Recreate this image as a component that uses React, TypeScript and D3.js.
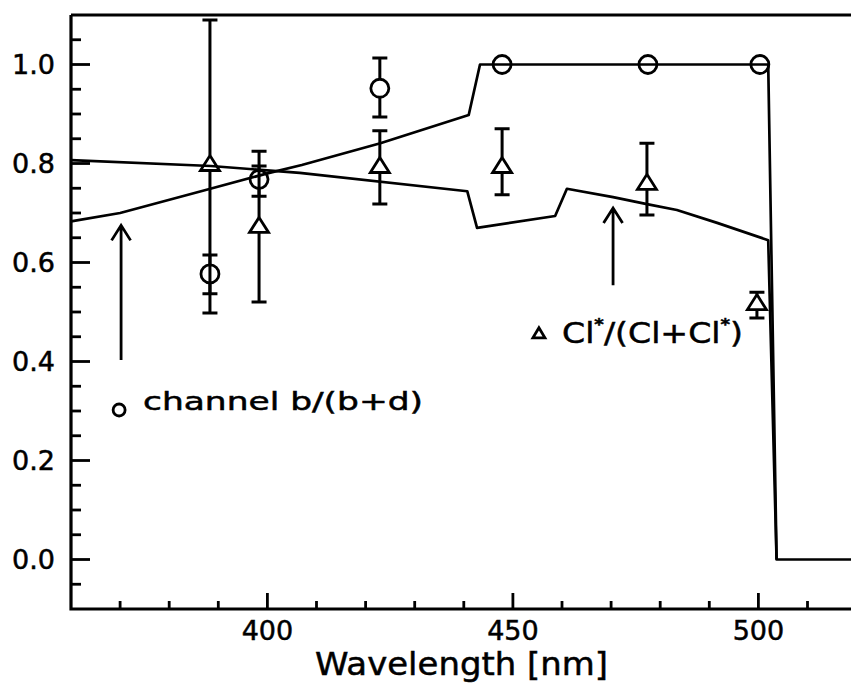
import { useEffect, useRef } from "react";
import * as d3 from "d3";

// model curves (wavelength nm, ratio)
const channelCurve: [number, number][] = [
  [360, 0.683], [370, 0.7], [388, 0.748], [400, 0.78], [407, 0.797],
  [423, 0.841], [441, 0.898], [443.3, 1.0], [502, 1.0], [503.7, 0.0], [520, 0.0],
];
const clCurve: [number, number][] = [
  [360, 0.807], [388.5, 0.795], [406.6, 0.781], [440.7, 0.744], [442.7, 0.67],
  [458.6, 0.694], [461, 0.749], [470.4, 0.732], [477.3, 0.718], [483.4, 0.706],
  [491.6, 0.68], [502, 0.645], [503.7, 0.0],
];

// measured points: [wavelength, value, low, high]
const channelPoints: [number, number, number, number][] = [
  [388.3, 0.577, 0.537, 0.615],
  [398.3, 0.768, 0.734, 0.795],
  [422.9, 0.952, 0.894, 1.013],
  [447.8, 1.0, 1.0, 1.0],
  [477.5, 1.0, 1.0, 1.0],
  [500.3, 1.0, 1.0, 1.0],
];
const clPoints: [number, number, number, number][] = [
  [388.3, 0.801, 0.498, 1.09],
  [398.3, 0.676, 0.52, 0.825],
  [422.9, 0.797, 0.718, 0.866],
  [447.8, 0.797, 0.737, 0.87],
  [477.3, 0.763, 0.696, 0.841],
  [499.7, 0.52, 0.488, 0.54],
];

const yMajor = [0, 0.2, 0.4, 0.6, 0.8, 1.0];
const yMinor = [-0.05, 0.05, 0.1, 0.15, 0.25, 0.3, 0.35, 0.45, 0.5, 0.55, 0.65, 0.7, 0.75, 0.85, 0.9, 0.95, 1.05];
const xMajor = [400, 450, 500];
const xMinor = [370, 380, 390, 410, 420, 430, 440, 460, 470, 480, 490, 510];

const FONT = "'DejaVu Sans', sans-serif";

const App = () => {
  const svgRef = useRef<SVGSVGElement>(null);

  useEffect(() => {
    const svg = d3.select(svgRef.current);
    svg.selectAll("*").remove();

    const x = d3.scaleLinear().domain([360, 520]).range([71, 71 + 160 * 4.91]);
    const y = d3.scaleLinear().domain([-0.1, 1.1]).range([609, 15]);
    const left = x(360);
    const bottom = y(-0.1);
    const top = y(1.1);

    const line = d3
      .line<[number, number]>()
      .x((d) => x(d[0]))
      .y((d) => y(d[1]));

    const g = svg.append("g");

    // text helper: thin outline to get the heavy plotter look
    const txt = (sel: d3.Selection<SVGTextElement, any, any, any>, size: number) =>
      sel
        .attr("font-family", FONT)
        .attr("font-size", size)
        .attr("fill", "#000")
        .attr("stroke", "#000")
        .attr("stroke-width", 0.5);

    // frame
    g.append("path")
      .attr("d", `M${left},${top}H851M${left},${top}V${bottom}H851`)
      .attr("fill", "none")
      .attr("stroke", "#000")
      .attr("stroke-width", 3.2);

    // y ticks
    g.selectAll(".ymaj")
      .data(yMajor)
      .enter()
      .append("line")
      .attr("x1", left)
      .attr("x2", left + 19)
      .attr("y1", (d) => y(d))
      .attr("y2", (d) => y(d))
      .attr("stroke", "#000")
      .attr("stroke-width", 2.8);
    g.selectAll(".ymin")
      .data(yMinor)
      .enter()
      .append("line")
      .attr("x1", left)
      .attr("x2", left + 10)
      .attr("y1", (d) => y(d))
      .attr("y2", (d) => y(d))
      .attr("stroke", "#000")
      .attr("stroke-width", 2.8);
    txt(
      g.selectAll(".ylab")
        .data(yMajor)
        .enter()
        .append("text")
        .attr("x", 55)
        .attr("y", (d) => y(d))
        .attr("dy", "0.36em")
        .attr("text-anchor", "end"),
      27
    ).text((d) => d3.format(".1f")(d));

    // x ticks
    g.selectAll(".xmaj")
      .data(xMajor)
      .enter()
      .append("line")
      .attr("x1", (d) => x(d))
      .attr("x2", (d) => x(d))
      .attr("y1", bottom)
      .attr("y2", bottom - 16)
      .attr("stroke", "#000")
      .attr("stroke-width", 2.8);
    g.selectAll(".xmin")
      .data(xMinor)
      .enter()
      .append("line")
      .attr("x1", (d) => x(d))
      .attr("x2", (d) => x(d))
      .attr("y1", bottom)
      .attr("y2", bottom - 8)
      .attr("stroke", "#000")
      .attr("stroke-width", 2.8);
    txt(
      g.selectAll(".xlab")
        .data(xMajor)
        .enter()
        .append("text")
        .attr("x", (d) => x(d))
        .attr("y", 640)
        .attr("text-anchor", "middle"),
      27
    ).text((d) => d);

    txt(
      g.append("text")
        .attr("x", 315)
        .attr("y", 675)
        .attr("textLength", 293)
        .attr("lengthAdjust", "spacingAndGlyphs"),
      32
    ).text("Wavelength  [nm]");

    // model curves
    [channelCurve, clCurve].forEach((c) => {
      g.append("path")
        .datum(c)
        .attr("fill", "none")
        .attr("stroke", "#000")
        .attr("stroke-width", 2.7)
        .attr("stroke-linejoin", "round")
        .attr("d", line);
    });

    const R = 9;
    const TW = 9.5;
    const TH = 15;
    const CAP = 7.5;

    const errorBars = (pts: [number, number, number, number][], gap: number) => {
      pts.forEach(([wl, v, lo, hi]) => {
        if (hi - lo < 0.001) return;
        const cx = x(wl);
        const cy = y(v);
        g.append("path")
          .attr(
            "d",
            `M${cx},${y(hi)}V${cy - gap}M${cx},${cy + gap}V${y(lo)}` +
              `M${cx - CAP},${y(hi)}H${cx + CAP}M${cx - CAP},${y(lo)}H${cx + CAP}`
          )
          .attr("fill", "none")
          .attr("stroke", "#000")
          .attr("stroke-width", 3);
      });
    };
    errorBars(channelPoints, R);
    errorBars(clPoints, TH / 2);

    g.selectAll(".circ")
      .data(channelPoints)
      .enter()
      .append("circle")
      .attr("cx", (d) => x(d[0]))
      .attr("cy", (d) => y(d[1]))
      .attr("r", R)
      .attr("fill", "none")
      .attr("stroke", "#000")
      .attr("stroke-width", 2.8);

    const tri = (cx: number, cy: number, w: number, h: number) =>
      `M${cx},${cy - h / 2}L${cx + w},${cy + h / 2}L${cx - w},${cy + h / 2}Z`;

    g.selectAll(".tri")
      .data(clPoints)
      .enter()
      .append("path")
      .attr("d", (d) => tri(x(d[0]), y(d[1]), TW, TH))
      .attr("fill", "none")
      .attr("stroke", "#000")
      .attr("stroke-width", 2.8)
      .attr("stroke-linejoin", "miter");

    // annotations
    const arrow = (wl: number, from: number, to: number) => {
      const ax = x(wl);
      const tipY = y(to);
      g.append("path")
        .attr("d", `M${ax},${y(from)}V${tipY}M${ax - 9.5},${tipY + 15}L${ax},${tipY}L${ax + 9.5},${tipY + 15}`)
        .attr("fill", "none")
        .attr("stroke", "#000")
        .attr("stroke-width", 2.8);
    };
    arrow(370.2, 0.403, 0.675);
    arrow(470.4, 0.554, 0.71);

    g.append("circle")
      .attr("cx", x(369.8))
      .attr("cy", y(0.302))
      .attr("r", 6)
      .attr("fill", "none")
      .attr("stroke", "#000")
      .attr("stroke-width", 2.8);
    txt(
      g.append("text")
        .attr("x", 143)
        .attr("y", 410)
        .attr("textLength", 280)
        .attr("lengthAdjust", "spacingAndGlyphs"),
      25
    ).text("channel  b/(b+d)");

    g.append("path")
      .attr("d", tri(x(455.3), y(0.458), 6, 10))
      .attr("fill", "none")
      .attr("stroke", "#000")
      .attr("stroke-width", 2.8);
    const cl = txt(
      g.append("text")
        .attr("x", 562)
        .attr("y", 343)
        .attr("textLength", 181)
        .attr("lengthAdjust", "spacingAndGlyphs"),
      29
    );
    cl.append("tspan").text("Cl");
    cl.append("tspan").attr("dy", -13).attr("font-size", 16).attr("font-weight", "bold").text("*");
    cl.append("tspan").attr("dy", 13).text("/(Cl+Cl");
    cl.append("tspan").attr("dy", -13).attr("font-size", 16).attr("font-weight", "bold").text("*");
    cl.append("tspan").attr("dy", 13).text(")");
  }, []);

  return (
    <svg
      ref={svgRef}
      width={851}
      height={689}
      style={{ position: "absolute", left: 0, top: 0, background: "#fff" }}
    />
  );
};

export default App;
